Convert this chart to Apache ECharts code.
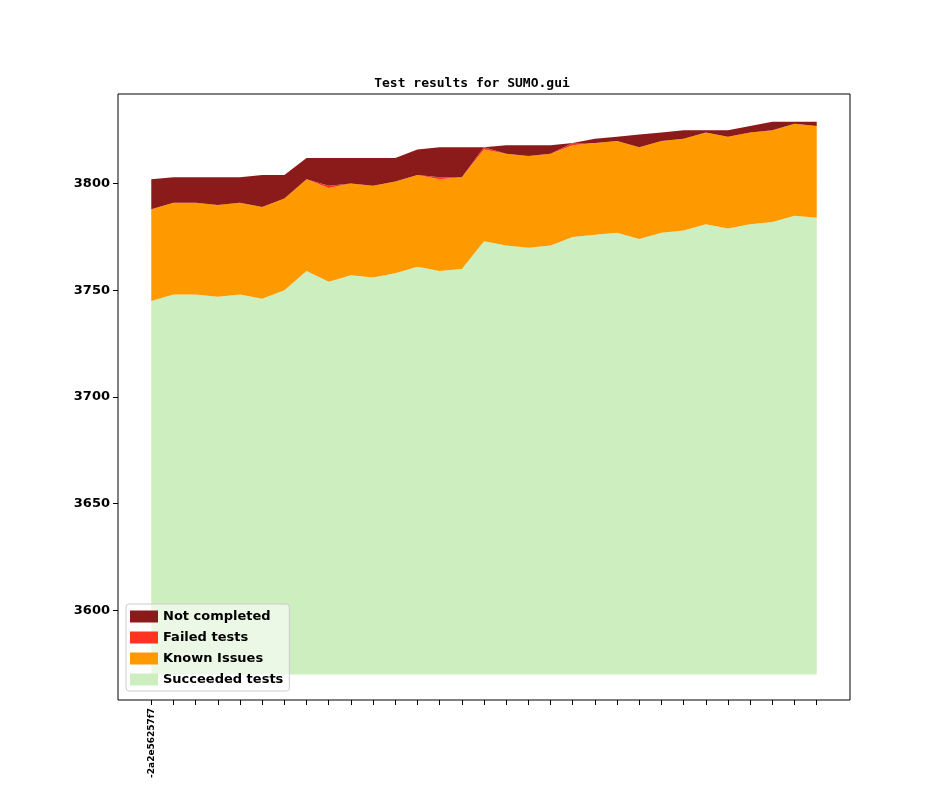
<!DOCTYPE html>
<html lang="en">
<head>
    <meta charset="UTF-8">
    <title>Test results for SUMO.gui</title>
    <script src="https://cdn.jsdelivr.net/npm/echarts@6/dist/echarts.min.js"></script>
    <style>body{margin:0;background:#fff}</style>
</head>
<body>
    <div id="main" style="width:944px;height:787px;"></div>
    <script>
        // one label per build, only the first one is printed in the original
        var categories = ['-2a2e56257f7'];
        for (var k = 1; k < 31; k++) categories.push('');

        var succeeded = [3745, 3748, 3748, 3747, 3748, 3746, 3750, 3759, 3754, 3757, 3756, 3758, 3761, 3759, 3760,
            3773, 3771, 3770, 3771, 3775, 3776, 3777, 3774, 3777, 3778, 3781, 3779, 3781, 3782, 3785, 3784];
        var knownIssues = [43, 43, 43, 43, 43, 43, 43, 43, 44, 43, 43, 43, 43, 43, 43,
            43, 43, 43, 43, 43, 43, 43, 43, 43, 43, 43, 43, 43, 43, 43, 43];
        var failed = [0, 0, 0, 0, 0, 0, 0, 0, 1, 0, 0, 0, 0, 1, 0,
            1, 0, 0, 0, 1, 0, 0, 0, 0, 0, 0, 0, 0, 0, 0, 0];
        var notCompleted = [14, 12, 12, 13, 12, 15, 11, 10, 13, 12, 13, 11, 12, 14, 14,
            0, 4, 5, 4, 0, 2, 2, 6, 4, 4, 1, 3, 3, 4, 1, 2];
        var yTicks = [3600, 3650, 3700, 3750, 3800];
        var baseLine = 3570;

        // pad one empty slot on each side so the plot gets matplotlib-like margins
        var xCats = [' '].concat(categories, ['  ']);
        function padded(arr) {
            return ['-'].concat(arr, ['-']);
        }
        function area(name, data, color, origin) {
            var s = {
                name: name, type: 'line', stack: 'all', data: padded(data),
                symbol: 'none', lineStyle: { width: 0 }, itemStyle: { color: color },
                areaStyle: { color: color, opacity: 1 }
            };
            if (origin !== undefined) s.areaStyle.origin = origin;
            return s;
        }

        var myChart = echarts.init(document.getElementById('main'));
        var boldFont = { fontFamily: 'DejaVu Sans', fontWeight: 'bold', fontSize: 13, color: '#000' };
        myChart.setOption({
            animation: false,
            title: {
                text: 'Test results for SUMO.gui', left: 'center', top: 72,
                textStyle: { fontFamily: 'DejaVu Sans Mono', fontWeight: 'bold', fontSize: 13, color: '#000' }
            },
            grid: { left: 118, right: 94, top: 94, bottom: 87, show: true, borderColor: '#000', borderWidth: 1, backgroundColor: 'transparent' },
            legend: {
                orient: 'vertical', left: 126, bottom: 96, itemWidth: 28, itemHeight: 12, itemGap: 8, icon: 'rect',
                backgroundColor: 'rgba(255,255,255,0.6)', borderColor: '#ccc', borderWidth: 1, borderRadius: 3, padding: [6, 6, 5, 4],
                textStyle: boldFont,
                data: ['Not completed', 'Failed tests', 'Known Issues', 'Succeeded tests'],
                selectedMode: false
            },
            xAxis: {
                type: 'category', data: xCats, boundaryGap: true,
                axisLine: { show: false, onZero: false },
                splitLine: { show: false },
                axisTick: {
                    show: true, length: 5, alignWithLabel: true, lineStyle: { color: '#000' },
                    interval: function (i) { return i > 0 && i < xCats.length - 1; }
                },
                axisLabel: {
                    rotate: 90, fontFamily: 'DejaVu Sans', fontWeight: 'bold', fontSize: 9, color: '#000',
                    interval: 0, formatter: function (v) { return v.trim(); }
                }
            },
            yAxis: {
                type: 'value', min: 3558, max: 3842,
                axisLine: { show: false, onZero: false },
                splitLine: { show: false },
                axisTick: { show: true, length: 5, lineStyle: { color: '#000' }, customValues: yTicks },
                axisLabel: Object.assign({ customValues: yTicks, margin: 8, formatter: function (v) { return String(v); } }, boldFont)
            },
            series: [
                area('Succeeded tests', succeeded, '#cdeebe', baseLine),
                area('Known Issues', knownIssues, '#ff9900'),
                area('Failed tests', failed, '#ff3322'),
                area('Not completed', notCompleted, '#8b1a1a')
            ]
        });
    </script>
</body>
</html>
